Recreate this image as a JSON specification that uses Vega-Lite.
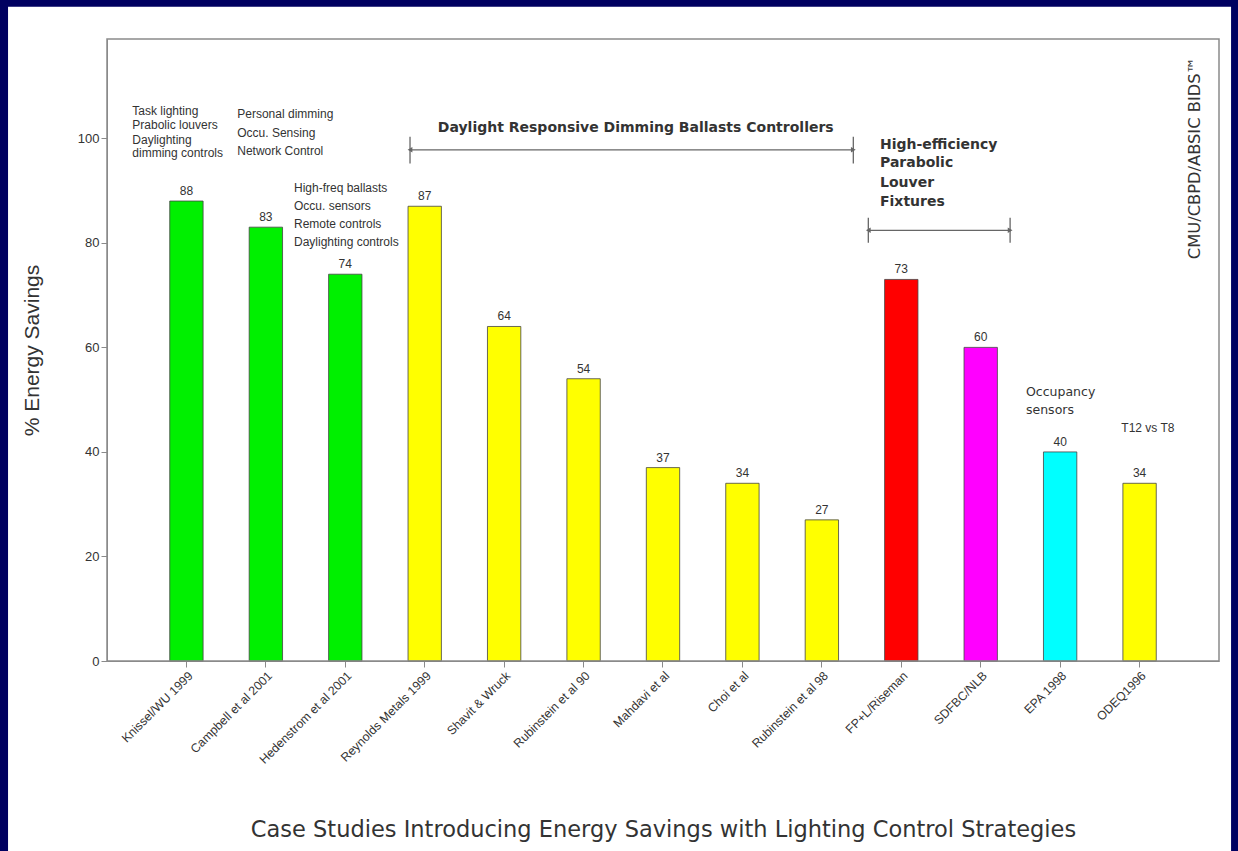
{
  "$schema": "https://vega.github.io/schema/vega-lite/v6.json",
  "width": 1112,
  "height": 622,
  "autosize": {"type": "none"},
  "padding": {"left": 107, "top": 39, "right": 19, "bottom": 190},
  "background": "white",
  "config": {
    "font": "Liberation Sans",
    "view": {"stroke": null},
    "axis": {"domainColor": "#8a8a8a", "tickColor": "#8a8a8a", "labelColor": "#333333", "titleColor": "#333333", "labelFont": "Liberation Sans", "titleFont": "Liberation Sans", "titleFontWeight": "normal", "grid": false}
  },
  "datasets": {
    "one": [{"item": "panel"}],
    "bars": [
      {"study": "Knissel/WU 1999", "value": 88, "group": "Integrated controls"},
      {"study": "Campbell et al 2001", "value": 83, "group": "Integrated controls"},
      {"study": "Hedenstrom et al 2001", "value": 74, "group": "Integrated controls"},
      {"study": "Reynolds Metals 1999", "value": 87, "group": "Daylight dimming"},
      {"study": "Shavit & Wruck", "value": 64, "group": "Daylight dimming"},
      {"study": "Rubinstein et al 90", "value": 54, "group": "Daylight dimming"},
      {"study": "Mahdavi et al", "value": 37, "group": "Daylight dimming"},
      {"study": "Choi et al", "value": 34, "group": "Daylight dimming"},
      {"study": "Rubinstein et al 98", "value": 27, "group": "Daylight dimming"},
      {"study": "FP+L/Riseman", "value": 73, "group": "Parabolic louver FP+L"},
      {"study": "SDFBC/NLB", "value": 60, "group": "Parabolic louver SDFBC"},
      {"study": "EPA 1998", "value": 40, "group": "Occupancy sensors"},
      {"study": "ODEQ1996", "value": 34, "group": "T12 vs T8"}
    ],
    "notes": [
      {"text": "Task lighting", "x": 0.319, "y": 105.2},
      {"text": "Prabolic louvers", "x": 0.319, "y": 102.6},
      {"text": "Daylighting", "x": 0.319, "y": 99.75},
      {"text": "dimming controls", "x": 0.319, "y": 97.1},
      {"text": "Personal dimming", "x": 1.64, "y": 104.6},
      {"text": "Occu. Sensing", "x": 1.64, "y": 101.0},
      {"text": "Network Control", "x": 1.64, "y": 97.6},
      {"text": "High-freq ballasts", "x": 2.354, "y": 90.4},
      {"text": "Occu. sensors", "x": 2.354, "y": 87.0},
      {"text": "Remote controls", "x": 2.354, "y": 83.7},
      {"text": "Daylighting controls", "x": 2.354, "y": 80.2},
      {"text": "T12 vs T8", "x": 12.77, "y": 44.6}
    ],
    "occupancyNote": [
      {"text": "Occupancy", "x": 11.57, "y": 51.4},
      {"text": "sensors", "x": 11.57, "y": 48.0}
    ],
    "boldNotes": [
      {"text": "High-efficiency", "x": 9.732, "y": 98.7},
      {"text": "Parabolic", "x": 9.732, "y": 95.2},
      {"text": "Louver", "x": 9.732, "y": 91.5},
      {"text": "Fixtures", "x": 9.732, "y": 87.8}
    ],
    "headline": [
      {"text": "Daylight Responsive Dimming Ballasts Controllers", "x": 6.657, "y": 102.0}
    ],
    "credit": [
      {"text": "CMU/CBPD/ABSIC BIDS™", "x": 13.7, "y": 96.2}
    ],
    "arrows": [
      {"x1": 3.815, "x2": 9.396, "y": 97.8, "ylo": 95.2, "yhi": 100.3},
      {"x1": 9.585, "x2": 11.37, "y": 82.4, "ylo": 80.0, "yhi": 84.8}
    ]
  },
  "layer": [
    {
      "data": {"name": "bars"},
      "encoding": {
        "x": {"field": "study", "type": "nominal", "sort": null,
              "scale": {"type": "band", "paddingInner": 0.58, "paddingOuter": 0.79},
              "axis": {"title": "Case Studies Introducing Energy Savings with Lighting Control Strategies", "titleFont": "DejaVu Sans", "titleFontSize": 22.5, "titlePadding": 53, "labelAngle": -45, "labelFontSize": 12.3, "tickSize": 6, "labelPadding": 2}},
        "y": {"field": "value", "type": "quantitative", "scale": {"domain": [0, 119], "nice": false, "zero": true},
              "axis": {"title": "% Energy Savings", "titleFontSize": 21, "values": [0, 20, 40, 60, 80, 100], "labelFontSize": 13, "tickSize": 6, "titlePadding": 35}}
      },
      "layer": [
        {
          "mark": {"type": "bar", "stroke": "#444444", "strokeWidth": 0.8},
          "encoding": {
            "color": {"field": "group", "type": "nominal", "legend": null,
                      "scale": {"domain": ["Integrated controls", "Daylight dimming", "Parabolic louver FP+L", "Parabolic louver SDFBC", "Occupancy sensors", "T12 vs T8"],
                                "range": ["#00f000", "#ffff00", "#ff0000", "#ff00ff", "#00ffff", "#ffff00"]}}
          }
        },
        {
          "mark": {"type": "text", "baseline": "bottom", "dy": -3, "fontSize": 12, "color": "#333333"},
          "encoding": {"text": {"field": "value", "type": "quantitative"}}
        }
      ]
    },
    {
      "encoding": {
        "x": {"field": "x", "type": "quantitative", "scale": {"domain": [0, 14]}, "axis": null},
        "y": {"field": "y", "type": "quantitative", "scale": {"domain": [0, 119], "nice": false}}
      },
      "layer": [
        {
          "data": {"name": "notes"},
          "mark": {"type": "text", "align": "left", "baseline": "middle", "fontSize": 12, "color": "#333333"},
          "encoding": {"text": {"field": "text"}}
        },
        {
          "data": {"name": "occupancyNote"},
          "mark": {"type": "text", "align": "left", "baseline": "middle", "fontSize": 12.5, "font": "DejaVu Sans", "color": "#333333"},
          "encoding": {"text": {"field": "text"}}
        },
        {
          "data": {"name": "boldNotes"},
          "mark": {"type": "text", "align": "left", "baseline": "middle", "fontSize": 14, "font": "DejaVu Sans", "fontWeight": "bold", "color": "#333333"},
          "encoding": {"text": {"field": "text"}}
        },
        {
          "data": {"name": "headline"},
          "mark": {"type": "text", "align": "center", "baseline": "middle", "fontSize": 14, "font": "DejaVu Sans", "fontWeight": "bold", "color": "#333333"},
          "encoding": {"text": {"field": "text"}}
        },
        {
          "data": {"name": "credit"},
          "mark": {"type": "text", "align": "center", "baseline": "middle", "angle": 270, "fontSize": 16.3, "font": "DejaVu Sans", "color": "#333333"},
          "encoding": {"text": {"field": "text"}}
        },
        {
          "data": {"name": "arrows"},
          "mark": {"type": "rule", "color": "#666666", "strokeWidth": 1.3},
          "encoding": {
            "x": {"field": "x1", "type": "quantitative"},
            "x2": {"field": "x2"}
          }
        },
        {
          "data": {"name": "arrows"},
          "mark": {"type": "rule", "color": "#666666", "strokeWidth": 1.3},
          "encoding": {
            "x": {"field": "x1", "type": "quantitative"},
            "y": {"field": "ylo", "type": "quantitative"},
            "y2": {"field": "yhi"}
          }
        },
        {
          "data": {"name": "arrows"},
          "mark": {"type": "rule", "color": "#666666", "strokeWidth": 1.3},
          "encoding": {
            "x": {"field": "x2", "type": "quantitative"},
            "y": {"field": "ylo", "type": "quantitative"},
            "y2": {"field": "yhi"}
          }
        },
        {
          "data": {"name": "arrows"},
          "mark": {"type": "point", "shape": "triangle-left", "filled": true, "size": 30, "color": "#666666", "dx": 5, "opacity": 1},
          "encoding": {"x": {"field": "x1", "type": "quantitative"}}
        },
        {
          "data": {"name": "arrows"},
          "mark": {"type": "point", "shape": "triangle-right", "filled": true, "size": 30, "color": "#666666", "dx": -5, "opacity": 1},
          "encoding": {"x": {"field": "x2", "type": "quantitative"}}
        }
      ]
    },
    {
      "data": {"name": "one"},
      "mark": {"type": "rect", "fill": "transparent", "stroke": "#8a8a8a", "strokeWidth": 1.5},
      "encoding": {
        "x": {"datum": 0, "type": "quantitative", "scale": {"domain": [0, 14]}, "axis": null},
        "x2": {"datum": 14},
        "y": {"datum": 0, "type": "quantitative", "scale": {"domain": [0, 119], "nice": false}},
        "y2": {"datum": 119}
      }
    },
    {
      "data": {"name": "one"},
      "mark": {"type": "rect", "fill": "transparent", "stroke": "#000060", "strokeWidth": 14, "clip": false},
      "encoding": {
        "x": {"datum": -1.334, "type": "quantitative", "scale": {"domain": [0, 14]}, "axis": null},
        "x2": {"datum": 14.24},
        "y": {"datum": 126.5, "type": "quantitative", "scale": {"domain": [0, 119], "nice": false}},
        "y2": {"datum": -40}
      }
    }
  ],
  "resolve": {"scale": {"x": "independent"}}
}
